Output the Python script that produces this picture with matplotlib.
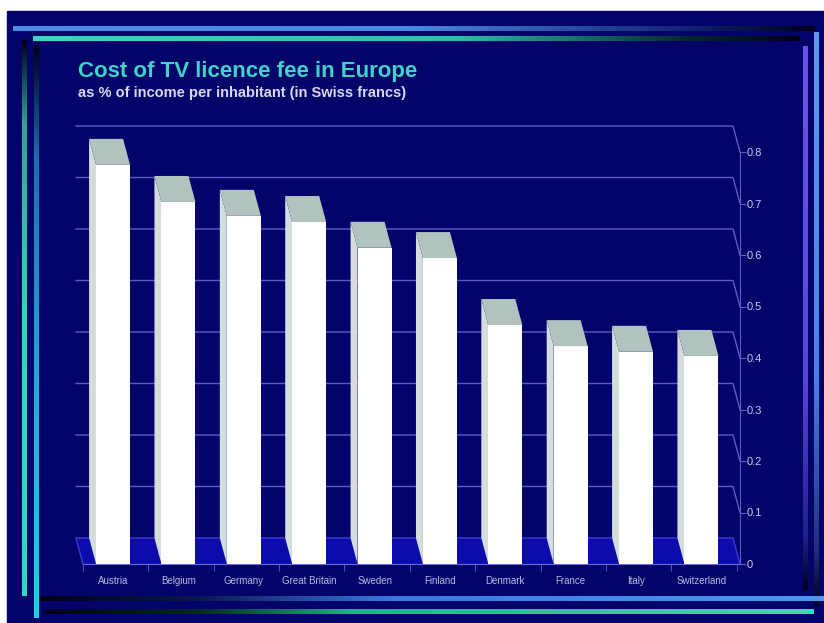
import matplotlib.pyplot as plt
import numpy as np
from matplotlib.colors import to_rgb

plt.rcParams['font.family'] = ['Liberation Sans', 'DejaVu Sans']

# Data
countries = ["Austria", "Belgium", "Germany", "Great Britain", "Sweden",
             "Finland", "Denmark", "France", "Italy", "Switzerland"]
fees = [0.775, 0.703, 0.676, 0.664, 0.614, 0.594, 0.464, 0.423, 0.412, 0.404]
yticks = [0, 0.1, 0.2, 0.3, 0.4, 0.5, 0.6, 0.7, 0.8]
ytick_labels = ["0", "0.1", "0.2", "0.3", "0.4", "0.5", "0.6", "0.7", "0.8"]

bg = '#03036a'
grid_col = '#5c5cc8'
W, H = 824, 623

fig = plt.figure(figsize=(W / 100, H / 100), dpi=100, facecolor='white')

# frame / decoration layer in pixel coordinates
deco = fig.add_axes([0, 0, 1, 1])
deco.set_xlim(0, W)
deco.set_ylim(H, 0)
deco.axis('off')
deco.add_patch(plt.Rectangle((7, 11), W + 10, H + 10, color=bg, zorder=0))


def grad_line(ax, x0, y0, x1, y1, stops, lw):
    # horizontal or vertical bar with a colour gradient along it
    n = 256
    t = np.linspace(0, 1, n)
    fr = [s[0] for s in stops]
    cols = np.array([to_rgb(s[1]) for s in stops])
    c = np.column_stack([np.interp(t, fr, cols[:, k]) for k in range(3)])
    if y0 == y1:
        img = c[np.newaxis, :, :]
        ext = (x0, x1, y0 + lw / 2, y0 - lw / 2)
    else:
        img = c[:, np.newaxis, :]
        ext = (x0 - lw / 2, x0 + lw / 2, y1, y0)
    ax.imshow(img, extent=ext, aspect='auto', interpolation='bilinear', zorder=2)


dark = '#000018'
# top lines
grad_line(deco, 13, 29, 815, 29, [(0, '#4c8ee6'), (0.5, '#4a88e0'), (0.85, '#102070'), (1, dark)], 5)
grad_line(deco, 33, 39, 800, 39, [(0, '#38d8bc'), (0.55, '#2cc0a8'), (0.85, '#062a30'), (1, dark)], 5)
# left lines
grad_line(deco, 25, 40, 25, 596, [(0, dark), (0.15, '#2aa890'), (0.5, '#30d8b0'), (1, '#30d8c0')], 5)
grad_line(deco, 37, 45, 37, 618, [(0, dark), (0.2, '#1c70b0'), (0.6, '#28a8d8'), (1, '#30c8e0')], 5)
# right lines
grad_line(deco, 806, 46, 806, 590, [(0, '#6a50f0'), (0.6, '#5a44e0'), (0.9, '#202090'), (1, dark)], 5)
grad_line(deco, 817, 32, 817, 606, [(0, '#5a9af0'), (0.6, '#4a80e8'), (0.9, '#203080'), (1, dark)], 5)
# bottom lines
grad_line(deco, 40, 599, 824, 599, [(0, dark), (0.2, '#0a1850'), (0.45, '#3a78e0'), (1, '#4c98f0')], 5)
grad_line(deco, 45, 612, 814, 612, [(0, dark), (0.2, '#052a20'), (0.4, '#22b090'), (1, '#38dcc0')], 5)
deco.set_xlim(0, W)
deco.set_ylim(H, 0)

# titles
deco.text(78, 72, "Cost of TV licence fee in Europe", color='#40d4c8',
          fontsize=16, fontweight='bold', va='center', ha='left')
deco.text(78, 93, "as % of income per inhabitant (in Swiss francs)", color='#d8d8f4',
          fontsize=10.5, fontweight='bold', va='center', ha='left')

# chart axes
xmin, xmax = -0.46, 9.59
ytop = 0.86
ax = fig.add_axes([83 / W, (H - 564) / H, 657 / W, ytop * 515 / H])
ax.set_facecolor('none')
ax.set_xlim(xmin, xmax)
ax.set_ylim(0, ytop)

dz = 26 / 515
dx = -7 / 65.4
x = np.arange(len(countries))
w = 0.52

# floor
ax.fill([xmin, xmax, xmax + dx, xmin + dx], [0, 0, dz, dz], color='#0c0cac',
        zorder=1, clip_on=False)
# back gridlines with diagonal to the right axis
for v in yticks[1:]:
    ax.plot([xmin + dx, xmax + dx, xmax], [v + dz, v + dz, v], color=grid_col,
            lw=1, zorder=0.5, clip_on=False)
ax.plot([xmin + dx, xmax + dx, xmax], [dz, dz, 0], color='#3a3ad0', lw=1,
        zorder=1.2, clip_on=False)
ax.plot([xmin + dx, xmin], [dz, 0], color='#3a3ad0', lw=1, zorder=1.2, clip_on=False)

# bars: front face, left side, top cap
ax.bar(x, fees, width=w, color='white', zorder=3)
for xi, v in zip(x, fees):
    l, r = xi - w / 2, xi + w / 2
    ax.fill([l, l, l + dx, l + dx], [0, v, v + dz, dz], color='#d4dcdc',
            zorder=2.9, lw=0)
    ax.fill([l, l + dx, r + dx, r], [v, v + dz, v + dz, v], color='#b2c2be',
            zorder=3, lw=0)

# axes styling
for s in ['top', 'left']:
    ax.spines[s].set_visible(False)
ax.spines['bottom'].set_color('#6a6ae0')
ax.spines['right'].set_color(grid_col)
ax.spines['right'].set_bounds(0, 0.8)
ax.yaxis.set_ticks_position('right')
ax.set_yticks(yticks)
ax.set_yticklabels(ytick_labels)
ax.tick_params(axis='y', colors=grid_col, labelcolor='#c8c8f0', length=4,
               labelsize=8, pad=1)
ax.set_xticks(x)
ax.set_xticklabels(countries)
ax.set_xticks(np.arange(11) + xmin, minor=True)
ax.tick_params(axis='x', which='major', length=0, labelsize=7,
               labelcolor='#b8b8e4', pad=9)
ax.tick_params(axis='x', which='minor', length=5, color=grid_col)

plt.savefig('out.png', dpi=100, facecolor='white')
